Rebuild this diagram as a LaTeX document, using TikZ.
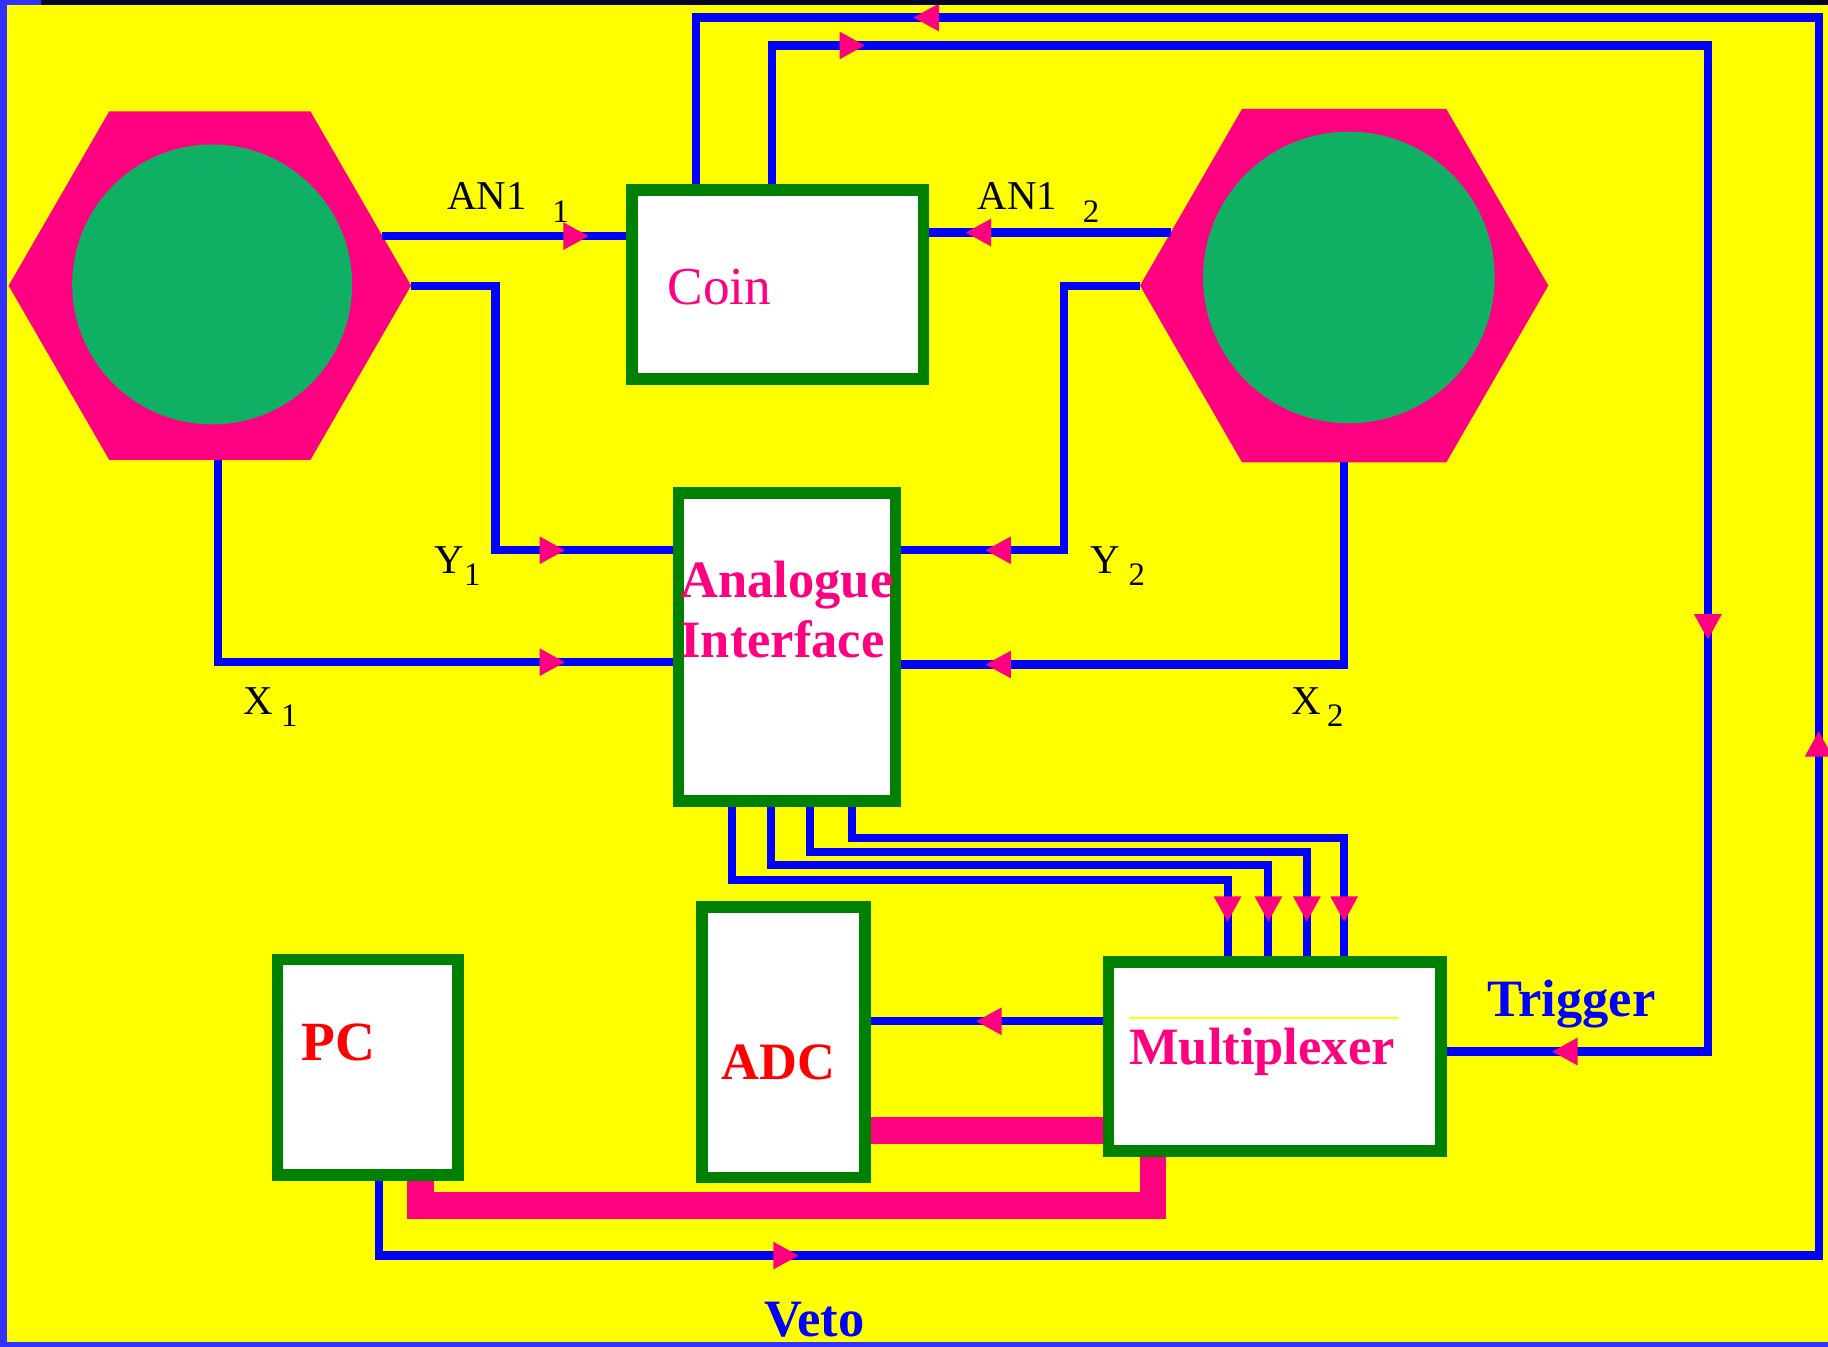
\documentclass[tikz,border=0pt]{standalone}
\usepackage{fontspec}
\setmainfont{Liberation Serif}
\usetikzlibrary{arrows.meta,shapes.geometric,decorations.markings}
\definecolor{slideyellow}{RGB}{255,255,0}
\definecolor{hexpink}{RGB}{255,0,128}
\definecolor{wireblue}{RGB}{0,0,255}
\definecolor{boxgreen}{RGB}{0,128,0}
\definecolor{discgreen}{RGB}{15,175,100}
\definecolor{labelred}{RGB}{255,0,0}
\definecolor{framenavy}{RGB}{5,5,40}
\definecolor{frameblue}{RGB}{50,50,255}

\begin{document}
\begin{tikzpicture}[x=0.01cm, y=-0.01cm,
  wire/.style={draw=wireblue, line width=0.07cm},
  bus/.style={draw=hexpink, line width=0.23cm},
  flow/.style={postaction={decorate, decoration={markings,
      mark=at position #1 with {\arrow{Triangle[length=2.2mm, width=2.2mm, color=hexpink]}}}}},
  hex/.style={regular polygon, regular polygon sides=6, fill=hexpink,
              minimum size=#1, inner sep=0pt, outer sep=0pt},
  disc/.style={circle, fill=discgreen, minimum size=#1, inner sep=0pt},
  box/.style 2 args={draw=boxgreen, fill=white, line width=0.1cm,
              minimum width=#1, minimum height=#2, inner sep=0pt},
  boxtext/.style={font=\fontsize{12.8}{14.7}\selectfont\bfseries, text=hexpink,
              anchor=base west, inner sep=0pt},
  sig/.style={font=\fontsize{10}{12}\selectfont, anchor=base west, inner sep=0pt},
]
  \useasboundingbox (0,0) rectangle (1568,1155);
  \fill[slideyellow] (0,0) rectangle (1568,1155);

  % ---- Detectors ----
  \node[hex=3.45cm] (hexL) at (180,245) {};
  \node[disc=2.4cm] (discL) at (182,244) {};
  \node[hex=3.5cm] (hexR) at (1153,245) {};
  \node[disc=2.5cm] (discR) at (1157,238) {};

  % ---- Modules ----
  \node[box={2.50cm}{1.62cm}] (coin) at (667,244) {};
  \node[box={1.86cm}{2.64cm}] (ana) at (675,555) {};
  \node[box={1.40cm}{2.32cm}] (adc) at (672,894) {};
  \node[box={1.55cm}{1.85cm}] (pc) at (315.5,915.5) {};
  \node[box={2.85cm}{1.62cm}] (mux) at (1093.5,906) {};
    \draw[slideyellow, line width=0.015cm] (968,873) -- (1200,873);   % rule in mux

  \node[boxtext, font=\fontsize{13}{15}\selectfont] (coinT) at (572,261) {Coin};
  \node[boxtext, align=left, anchor=west] (anaT) at (583,523) {Analogue\\Interface};
  \node[boxtext, text=labelred] (adcT) at (618,926) {ADC};
  \node[boxtext, text=labelred, font=\fontsize{13.5}{15}\selectfont\bfseries] (pcT) at (258,910) {PC};
  \node[boxtext] (muxT) at (968,913) {Multiplexer};

  % ---- Detector signals ----
  \draw[wire, flow=1.77cm] (hexL.16) -- (hexL.16 -| coin.west);
  \draw[wire, flow=1.76cm] (hexR.163) -- (hexR.163 -| coin.east);
  \draw[wire, flow=-0.92cm] (hexL.east) -| (425,472) -- (ana.west |- 0,472);
  \draw[wire, flow=-0.72cm] (hexR.west) -| (913,472) -- (ana.east |- 0,472);
  \draw[wire, flow=-0.92cm] (187,0 |- hexL.south) |- (ana.west |- 0,568);
  \draw[wire, flow=-0.72cm] (hexR.south) |- (ana.east |- 0,570);

  \node[sig] (an1a) at (383,180) {AN1\hspace{0.62em}\raisebox{-3pt}{\footnotesize 1}};
  \node[sig] (an1b) at (838,180) {AN1\hspace{0.62em}\raisebox{-3pt}{\footnotesize 2}};
  \node[sig] (y1) at (372,492) {Y\raisebox{-3pt}{\footnotesize 1}};
  \node[sig] (y2) at (935,492) {Y\hspace{0.2em}\raisebox{-3pt}{\footnotesize 2}};
  \node[sig] (x1) at (208,613) {X\hspace{0.2em}\raisebox{-3pt}{\footnotesize 1}};
  \node[sig] (x2) at (1107,613) {X\hspace{0.15em}\raisebox{-3pt}{\footnotesize 2}};

  % ---- Analogue interface to multiplexer ----
  \foreach \sx/\ly/\ex in {628/755/1053, 661/742/1088, 695/731/1121, 731/719/1153}
    \draw[wire, flow=-0.29cm] (ana.south -| \sx,0) |- (\ex,\ly) -- (mux.north -| \ex,0);

  % ---- Readout ----
  \draw[wire, flow=-0.9cm] (mux.west |- 0,876) -- (adc.east |- 0,876);
  \draw[bus] (adc.east |- 0,970) -- (mux.west |- 0,970);
  \draw[bus] (mux.south -| 989,0) |- (361,1034) -- (pc.south -| 361,0);

  % ---- Trigger and veto loops ----
  \draw[wire, flow=1.99cm, flow=14.31cm, flow=-0.9cm]
    (coin.north -| 662,0) |- (1465,39) |- (mux.east |- 0,902);
  \draw[wire, flow=4.24cm, flow=17.48cm, flow=-3.29cm]
    (pc.south -| 325,0) |- (1560,1077) -- (1560,15) -| (coin.north -| 597,0);

  \node[boxtext, text=wireblue] (trig) at (1275,872) {Trigger};
  \node[boxtext, text=wireblue] (veto) at (655,1146) {Veto};

  % ---- Frame ----
  \shade[top color=frameblue, middle color=black, bottom color=frameblue] (0,0) rectangle (6,1155);
  \fill[framenavy] (0,0) rectangle (1568,4);
  \fill[frameblue] (0,0) rectangle (35,4);
  \fill[frameblue] (0,1151) rectangle (1568,1155);
\end{tikzpicture}
\end{document}
